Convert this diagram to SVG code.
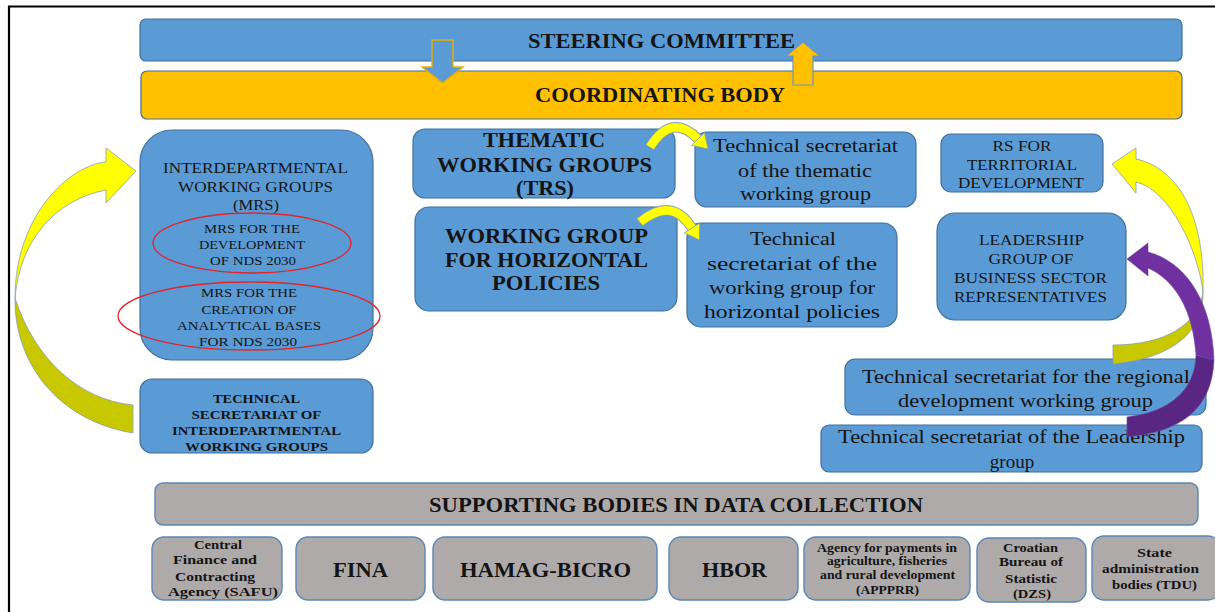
<svg xmlns="http://www.w3.org/2000/svg" width="1215" height="612" viewBox="0 0 1215 612">
<style>
.box{fill:#5B9BD5;stroke:#41719C;stroke-width:1.2}
.org{fill:#FFC000;stroke:#41719C;stroke-width:1.2}
.gbox{fill:#AEAAAA;stroke:#5A86B8;stroke-width:1.4}
.ell{fill:none;stroke:#E0252B;stroke-width:1.3}
.t{font-family:"Liberation Serif","Times New Roman",serif;fill:#141414;text-anchor:middle}
.b{font-weight:bold}
.yl{fill:#FFFF00;stroke:#8A9CB0;stroke-width:0.8}
.yd{fill:#C8C800;stroke:#8A9CB0;stroke-width:0.8}
.pl{fill:#7030A0;stroke:#6A4C9C;stroke-width:0.6}
.pd{fill:#5A2683;stroke:#6A4C9C;stroke-width:0.6}
</style>
<rect width="1215" height="612" fill="#fff"/>
<path d="M9 612 V6.5 H1215" fill="none" stroke="#000" stroke-width="2.2"/>

<g id="steering">
<rect class="box" x="140" y="19" width="1042" height="42" rx="6"/>
<text class="t b" x="661.5" y="48" font-size="20" textLength="267" lengthAdjust="spacingAndGlyphs">STEERING COMMITTEE</text>
</g>
<g id="coordinating">
<rect class="org" x="141" y="71" width="1041" height="48" rx="6"/>
<text class="t b" x="660" y="102" font-size="20" textLength="250" lengthAdjust="spacingAndGlyphs">COORDINATING BODY</text>
</g>

<g id="interdepartmental">
<rect class="box" x="140" y="130" width="233" height="230" rx="32"/>
<text class="t" font-size="15" x="255.5" y="173" textLength="185" lengthAdjust="spacingAndGlyphs">INTERDEPARTMENTAL</text>
<text class="t" font-size="15" x="255.5" y="192" textLength="155" lengthAdjust="spacingAndGlyphs">WORKING  GROUPS</text>
<text class="t" font-size="15" x="256" y="210" textLength="46" lengthAdjust="spacingAndGlyphs">(MRS)</text>
<ellipse class="ell" cx="252" cy="243" rx="99" ry="30"/>
<text class="t" font-size="13" x="252" y="233" textLength="96" lengthAdjust="spacingAndGlyphs">MRS FOR THE</text>
<text class="t" font-size="13" x="252" y="249" textLength="106" lengthAdjust="spacingAndGlyphs">DEVELOPMENT</text>
<text class="t" font-size="13" x="253" y="265" textLength="86" lengthAdjust="spacingAndGlyphs">OF NDS 2030</text>
<ellipse class="ell" cx="249" cy="316" rx="131" ry="34"/>
<text class="t" font-size="13" x="249" y="297" textLength="96" lengthAdjust="spacingAndGlyphs">MRS FOR THE</text>
<text class="t" font-size="13" x="249" y="314" textLength="95" lengthAdjust="spacingAndGlyphs">CREATION  OF</text>
<text class="t" font-size="13" x="249" y="330" textLength="144" lengthAdjust="spacingAndGlyphs">ANALYTICAL  BASES</text>
<text class="t" font-size="13" x="248" y="346" textLength="98" lengthAdjust="spacingAndGlyphs">FOR NDS 2030</text>
</g>

<g id="tech-interdepartmental">
<rect class="box" x="140" y="379" width="233" height="74" rx="12"/>
<text class="t b" font-size="13" x="256.5" y="403" textLength="87" lengthAdjust="spacingAndGlyphs">TECHNICAL</text>
<text class="t b" font-size="13" x="256.5" y="419" textLength="130" lengthAdjust="spacingAndGlyphs">SECRETARIAT  OF</text>
<text class="t b" font-size="13" x="256.5" y="435" textLength="169" lengthAdjust="spacingAndGlyphs">INTERDEPARTMENTAL</text>
<text class="t b" font-size="13" x="256.5" y="451" textLength="143" lengthAdjust="spacingAndGlyphs">WORKING  GROUPS</text>
</g>

<g id="thematic">
<rect class="box" x="413" y="129" width="262" height="69" rx="12"/>
<text class="t b" font-size="20" x="544" y="147" textLength="122" lengthAdjust="spacingAndGlyphs">THEMATIC</text>
<text class="t b" font-size="20" x="544.5" y="172" textLength="215" lengthAdjust="spacingAndGlyphs">WORKING GROUPS</text>
<text class="t b" font-size="20" x="545" y="195" textLength="58" lengthAdjust="spacingAndGlyphs">(TRS)</text>
</g>

<g id="horizontal">
<rect class="box" x="415" y="207" width="262" height="104" rx="14"/>
<text class="t b" font-size="20" x="546.5" y="243" textLength="203" lengthAdjust="spacingAndGlyphs">WORKING GROUP</text>
<text class="t b" font-size="20" x="546.5" y="267" textLength="203" lengthAdjust="spacingAndGlyphs">FOR HORIZONTAL</text>
<text class="t b" font-size="20" x="546" y="290" textLength="108" lengthAdjust="spacingAndGlyphs">POLICIES</text>
</g>

<g id="tech-thematic">
<rect class="box" x="695" y="132" width="221" height="75" rx="12"/>
<text class="t" font-size="19" x="805.5" y="152" textLength="185" lengthAdjust="spacingAndGlyphs">Technical secretariat</text>
<text class="t" font-size="19" x="805" y="177" textLength="134" lengthAdjust="spacingAndGlyphs">of the thematic</text>
<text class="t" font-size="19" x="805.5" y="200" textLength="131" lengthAdjust="spacingAndGlyphs">working  group</text>
</g>

<g id="tech-horizontal">
<rect class="box" x="687" y="223" width="210" height="104" rx="14"/>
<text class="t" font-size="19" x="793" y="245" textLength="86" lengthAdjust="spacingAndGlyphs">Technical</text>
<text class="t" font-size="19" x="792" y="270" textLength="170" lengthAdjust="spacingAndGlyphs">secretariat  of the</text>
<text class="t" font-size="19" x="792" y="294" textLength="166" lengthAdjust="spacingAndGlyphs">working group for</text>
<text class="t" font-size="19" x="792" y="318" textLength="176" lengthAdjust="spacingAndGlyphs">horizontal policies</text>
</g>

<g id="rs-territorial">
<rect class="box" x="941" y="134" width="162" height="58" rx="10"/>
<text class="t" font-size="15" x="1022" y="151" textLength="59" lengthAdjust="spacingAndGlyphs">RS FOR</text>
<text class="t" font-size="15" x="1022" y="170" textLength="110" lengthAdjust="spacingAndGlyphs">TERRITORIAL</text>
<text class="t" font-size="15" x="1021" y="188" textLength="126" lengthAdjust="spacingAndGlyphs">DEVELOPMENT</text>
</g>

<g id="leadership">
<rect class="box" x="937" y="213" width="189" height="107" rx="18"/>
<text class="t" font-size="15" x="1031.5" y="245" textLength="105" lengthAdjust="spacingAndGlyphs">LEADERSHIP</text>
<text class="t" font-size="15" x="1031" y="264" textLength="85" lengthAdjust="spacingAndGlyphs">GROUP  OF</text>
<text class="t" font-size="15" x="1030.5" y="283" textLength="153" lengthAdjust="spacingAndGlyphs">BUSINESS  SECTOR</text>
<text class="t" font-size="15" x="1030.5" y="302" textLength="153" lengthAdjust="spacingAndGlyphs">REPRESENTATIVES</text>
</g>

<g id="tech-regional">
<rect class="box" x="845" y="359" width="361" height="56" rx="10"/>
<text class="t" font-size="19" x="1026" y="383" textLength="328" lengthAdjust="spacingAndGlyphs">Technical secretariat  for the regional</text>
<text class="t" font-size="19" x="1025.5" y="407" textLength="255" lengthAdjust="spacingAndGlyphs">development  working group</text>
</g>

<g id="tech-leadership">
<rect class="box" x="821" y="425" width="381" height="47" rx="8"/>
<text class="t" font-size="19" x="1011.5" y="443" textLength="347" lengthAdjust="spacingAndGlyphs">Technical secretariat  of the Leadership</text>
<text class="t" font-size="19" x="1012" y="468">group</text>
</g>

<g id="supporting">
<rect class="gbox" x="155" y="483" width="1043" height="42" rx="8"/>
<text class="t b" font-size="20" x="676" y="512" textLength="494" lengthAdjust="spacingAndGlyphs">SUPPORTING BODIES IN DATA COLLECTION</text>
</g>

<g id="safu">
<rect class="gbox" x="152" y="537" width="130" height="63" rx="12"/>
<text class="t b" font-size="13" x="218" y="549" textLength="48" lengthAdjust="spacingAndGlyphs">Central</text>
<text class="t b" font-size="13" x="215" y="564" textLength="84" lengthAdjust="spacingAndGlyphs">Finance  and</text>
<text class="t b" font-size="13" x="215" y="581" textLength="80" lengthAdjust="spacingAndGlyphs">Contracting</text>
<text class="t b" font-size="13" x="223" y="596" textLength="110" lengthAdjust="spacingAndGlyphs">Agency (SAFU)</text>
</g>
<g id="fina">
<rect class="gbox" x="296" y="537" width="129" height="63" rx="12"/>
<text class="t b" font-size="20" x="360.5" y="577" textLength="55" lengthAdjust="spacingAndGlyphs">FINA</text>
</g>
<g id="hamag">
<rect class="gbox" x="433" y="537" width="224" height="63" rx="12"/>
<text class="t b" font-size="20" x="545.5" y="577" textLength="171" lengthAdjust="spacingAndGlyphs">HAMAG-BICRO</text>
</g>
<g id="hbor">
<rect class="gbox" x="669" y="537" width="129" height="63" rx="12"/>
<text class="t b" font-size="20" x="734.5" y="577" textLength="65" lengthAdjust="spacingAndGlyphs">HBOR</text>
</g>
<g id="apppr">
<rect class="gbox" x="804" y="537" width="166" height="63" rx="12"/>
<text class="t b" font-size="11.5" x="887" y="552" textLength="140" lengthAdjust="spacingAndGlyphs">Agency for payments in</text>
<text class="t b" font-size="11.5" x="887" y="565" textLength="120" lengthAdjust="spacingAndGlyphs">agriculture, fisheries</text>
<text class="t b" font-size="11.5" x="887.5" y="579" textLength="135" lengthAdjust="spacingAndGlyphs">and rural development</text>
<text class="t b" font-size="11.5" x="887.5" y="594" textLength="63" lengthAdjust="spacingAndGlyphs">(APPPRR)</text>
</g>
<g id="dzs">
<rect class="gbox" x="977" y="538" width="109" height="64" rx="12"/>
<text class="t b" font-size="13" x="1030.5" y="552" textLength="55" lengthAdjust="spacingAndGlyphs">Croatian</text>
<text class="t b" font-size="13" x="1031" y="566" textLength="64" lengthAdjust="spacingAndGlyphs">Bureau of</text>
<text class="t b" font-size="13" x="1031" y="583" textLength="52" lengthAdjust="spacingAndGlyphs">Statistic</text>
<text class="t b" font-size="13" x="1032" y="598" textLength="38" lengthAdjust="spacingAndGlyphs">(DZS)</text>
</g>
<g id="tdu">
<rect class="gbox" x="1092" y="536" width="128" height="64" rx="12"/>
<text class="t b" font-size="13" x="1154.5" y="557" textLength="35" lengthAdjust="spacingAndGlyphs">State</text>
<text class="t b" font-size="13" x="1150.5" y="573" textLength="97" lengthAdjust="spacingAndGlyphs">administration</text>
<text class="t b" font-size="13" x="1154.5" y="589" textLength="85" lengthAdjust="spacingAndGlyphs">bodies (TDU)</text>
</g>

<g id="connectors">
<polygon points="432,40 453,40 453,67 463,67 442.5,83 422,67 432,67" fill="#5B9BD5" stroke="#E8B000" stroke-width="1.4"/>
<polygon points="793,85 813,85 813,56 820,56 803,42 786,56 793,56" fill="#FFC000" stroke="#6E94BC" stroke-width="1.2"/>

<path class="yl" d="M136 171 L106 148 L106 162 C70 165 15 215 15 298 C20 240 55 200 106 190 L106 203 Z"/>
<path class="yd" d="M15 298 C14 360 55 420 133 433 L133 405 C80 400 35 360 15 298 Z"/>

<path d="M650 147 Q672 112 698 139" fill="none" stroke="#8A9CB0" stroke-width="10.5"/>
<path d="M650 147 Q672 112 698 139" fill="none" stroke="#FFFF00" stroke-width="8.6"/>
<polygon class="yl" points="708,149 691.5,145.3 704.5,132.7"/>
<path d="M640 222 Q672 196 692 228" fill="none" stroke="#8A9CB0" stroke-width="10.5"/>
<path d="M640 222 Q672 196 692 228" fill="none" stroke="#FFFF00" stroke-width="8.6"/>
<polygon class="yl" points="699.4,240 684.4,232.8 699.6,223.2"/>

<path class="yl" d="M1112 164 L1136 148 L1136 159 C1178 168 1205 215 1203 292 C1198 250 1170 190 1136 182 L1136 193 Z"/>
<path class="yd" d="M1203 292 C1204 330 1175 358 1113 364 L1113 345 C1165 345 1198 325 1203 292 Z"/>

<path class="pl" d="M1127 259 L1148 243 L1148 252 C1185 262 1212 300 1214 360 L1196 355 C1193 310 1175 280 1148 268 L1148 276 Z"/>
<path class="pd" d="M1214 360 C1212 410 1180 432 1127 437 L1127 417 C1170 412 1195 390 1196 355 Z"/>
</g>
</svg>
